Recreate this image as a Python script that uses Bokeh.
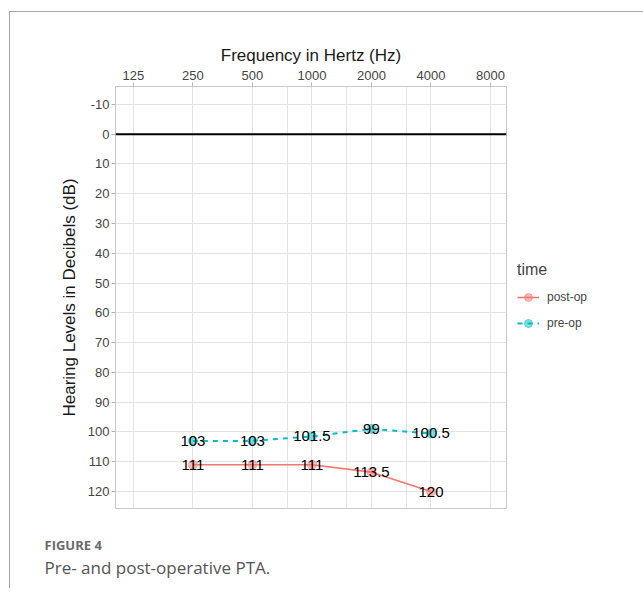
from bokeh.plotting import figure
from bokeh.models import (FixedTicker, Range1d, Span, Legend, LegendItem, Title,
                          ColumnDataSource)
from bokeh.core.properties import value
from bokeh.embed import file_html
from bokeh.resources import INLINE

freqs = [250, 500, 1000, 2000, 4000]
pre_op = [103, 103, 101.5, 99, 100.5]
post_op = [111, 111, 111, 113.5, 120]
x_ticks = [125, 250, 500, 1000, 2000, 4000, 8000]
x_extra_grid = [750, 1500, 3000]
y_ticks = list(range(-10, 121, 10))
series_names = ["post-op", "pre-op"]
caption_head = "FIGURE 4"
caption_text = "Pre- and post-operative PTA."

FONT = value("Liberation Sans")
RED = "#F8766D"
CYAN = "#00BFC4"

p = figure(frame_width=391, frame_height=422, x_axis_type="log",
           x_range=Range1d(101.5, 9640), y_range=Range1d(125.7, -16),
           output_backend="svg", toolbar_location=None,
           x_axis_location="above",
           min_border_left=105, min_border_top=74, min_border_right=128,
           min_border_bottom=80)
p.margin = (11, 0, 0, 9)
p.styles = {"border-left": "1px solid #a8a8a8", "border-top": "1px solid #a8a8a8"}

p.background_fill_color = "white"
p.border_fill_color = "white"
p.outline_line_color = "#c8c8c8"
p.outline_line_width = 1

# axes
p.xaxis.ticker = FixedTicker(ticks=x_ticks)
p.xaxis.major_label_overrides = {t: str(t) for t in x_ticks}
p.yaxis.ticker = FixedTicker(ticks=y_ticks)
p.yaxis.major_label_overrides = {t: str(t) for t in y_ticks}
p.xgrid.ticker = FixedTicker(ticks=x_ticks + x_extra_grid)
p.ygrid.ticker = FixedTicker(ticks=y_ticks)
for g in (p.xgrid, p.ygrid):
    g.grid_line_color = "#e3e3e3"
    g.grid_line_width = 1
for ax in (p.xaxis, p.yaxis):
    ax.axis_line_color = None
    ax.major_tick_line_color = "#b3b3b3"
    ax.major_tick_in = 0
    ax.major_tick_out = 4
    ax.minor_tick_line_color = None
    ax.major_label_text_font = "Liberation Sans"
    ax.major_label_text_font_size = "13px"
    ax.major_label_text_color = "#444444"
    ax.axis_label_text_font = "Liberation Sans"
    ax.axis_label_text_font_size = "17px"
    ax.axis_label_text_font_style = "normal"
    ax.axis_label_text_color = "#1a1a1a"
p.xaxis.axis_label = "Frequency in Hertz (Hz)"
p.yaxis.axis_label = "Hearing Levels in Decibels (dB)"
p.xaxis.major_label_standoff = 3
p.yaxis.major_label_standoff = 2
p.xaxis.axis_label_standoff = 3
p.yaxis.axis_label_standoff = 6

p.add_layout(Span(location=0, dimension="width", line_color="black", line_width=2))

src_pre = ColumnDataSource(dict(x=freqs, y=pre_op, t=[f"{v:g}" for v in pre_op]))
src_post = ColumnDataSource(dict(x=freqs, y=post_op, t=[f"{v:g}" for v in post_op]))

l_post = p.line("x", "y", source=src_post, line_color=RED, line_width=1.6)
s_post = p.scatter("x", "y", source=src_post, size=9, fill_color=RED, line_color=RED,
                   fill_alpha=0.5, line_alpha=0.5)
l_pre = p.line("x", "y", source=src_pre, line_color=CYAN, line_width=2, line_dash="5 5")
s_pre = p.scatter("x", "y", source=src_pre, size=9, fill_color=CYAN, line_color=CYAN,
                  fill_alpha=0.5, line_alpha=0.5)

for src in (src_post, src_pre):
    p.text("x", "y", text="t", source=src, text_font=FONT, text_font_size="15px",
           text_color="black", text_align="center", text_baseline="middle")

legend = Legend(items=[LegendItem(label=series_names[0], renderers=[l_post, s_post]),
                       LegendItem(label=series_names[1], renderers=[l_pre, s_pre])],
                title="time", location="center_left")
legend.title_text_font = "Liberation Sans"
legend.title_text_font_size = "16px"
legend.title_text_font_style = "normal"
legend.title_standoff = 8
legend.label_text_font = "Liberation Sans"
legend.label_text_font_size = "12px"
legend.label_standoff = 8
legend.border_line_color = None
legend.background_fill_alpha = 0
legend.glyph_width = 22
legend.spacing = 6
legend.margin = 11
legend.padding = 1
p.add_layout(legend, "right")

spacer = Title(text=" ", text_font_size="10px", standoff=12)
t1 = Title(text=caption_head, align="left", offset=-71, text_font="Open Sans",
           text_font_size="13px", text_font_style="bold", text_color="#6a6a6a",
           standoff=0)
t2 = Title(text=caption_text, align="left", offset=-71, text_font="Open Sans",
           text_font_size="17px", text_font_style="normal", text_color="#555555",
           standoff=0)
p.add_layout(spacer, "below")
p.add_layout(t1, "below")
p.add_layout(t2, "below")

open("out.html", "w").write(file_html(p, INLINE))
